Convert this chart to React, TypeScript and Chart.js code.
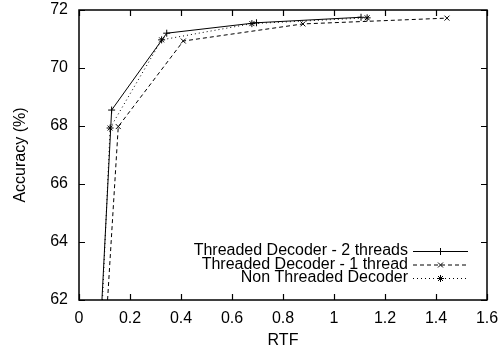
import React, { useEffect, useRef } from "react";
import { Chart, registerables } from "chart.js";
import { drawPoint } from "chart.js/helpers";

Chart.register(...registerables);

const seriesNames = [
  "Threaded Decoder - 2 threads",
  "Threaded Decoder - 1 thread",
  "Non Threaded Decoder",
];
const twoThreadsX = [0.09, 0.128, 0.344, 0.696, 1.106];
const twoThreadsY = [62, 68.55, 71.2, 71.56, 71.75];
const oneThreadX = [0.112, 0.154, 0.409, 0.878, 1.443];
const oneThreadY = [62, 67.98, 70.93, 71.52, 71.72];
const nonThreadedX = [0.092, 0.122, 0.324, 0.678, 1.13];
const nonThreadedY = [62, 67.93, 70.97, 71.53, 71.73];
const xTicks = [0, 0.2, 0.4, 0.6, 0.8, 1, 1.2, 1.4, 1.6];
const yTicks = [62, 64, 66, 68, 70, 72];

const FONT = "Liberation Sans, Arial, Helvetica, sans-serif";

function toPoints(xs: number[], ys: number[]) {
  return xs.map((x, i) => ({ x, y: ys[i] }));
}

const framePlugin = {
  id: "gnuplotFrame",
  afterDraw(chart: any) {
    const { ctx, chartArea } = chart;
    const { left, right, top, bottom } = chartArea;
    const xs = chart.scales.x;
    const ys = chart.scales.y;
    const tl = 6;
    ctx.save();
    ctx.strokeStyle = "#000";
    ctx.lineWidth = 1.5;
    ctx.setLineDash([]);
    ctx.strokeRect(left, top, right - left, bottom - top);
    ctx.lineWidth = 1.2;
    ctx.beginPath();
    xTicks.forEach((v) => {
      const px = Math.round(xs.getPixelForValue(v)) + 0.5;
      ctx.moveTo(px, bottom);
      ctx.lineTo(px, bottom - tl);
      ctx.moveTo(px, top);
      ctx.lineTo(px, top + tl);
    });
    yTicks.forEach((v) => {
      const py = Math.round(ys.getPixelForValue(v)) + 0.5;
      ctx.moveTo(left, py);
      ctx.lineTo(left + tl, py);
      ctx.moveTo(right, py);
      ctx.lineTo(right - tl, py);
    });
    ctx.stroke();

    // legend
    const textRight = right - 79;
    const lineStart = right - 74;
    const lineEnd = right - 19;
    ctx.font = `16px ${FONT}`;
    ctx.textAlign = "right";
    ctx.textBaseline = "middle";
    ctx.fillStyle = "#000";
    chart.data.datasets.forEach((ds: any, i: number) => {
      const y = bottom - 49 + 13.5 * i;
      ctx.fillText(ds.label, textRight, y);
      ctx.save();
      ctx.lineWidth = 1;
      ctx.setLineDash(ds.borderDash || []);
      ctx.beginPath();
      ctx.moveTo(lineStart, y + 0.5);
      ctx.lineTo(lineEnd, y + 0.5);
      ctx.stroke();
      ctx.setLineDash([]);
      drawPoint(
        ctx,
        {
          pointStyle: ds.pointStyle,
          radius: 3.5,
          rotation: 0,
          borderWidth: 1,
        } as any,
        (lineStart + lineEnd) / 2,
        y + 0.5
      );
      ctx.restore();
    });
    ctx.restore();
  },
};

export default function App() {
  const ref = useRef<HTMLCanvasElement | null>(null);

  useEffect(() => {
    if (!ref.current) return;
    const common = {
      borderColor: "#000",
      backgroundColor: "#000",
      pointBorderColor: "#000",
      borderWidth: 1,
      pointBorderWidth: 1,
      pointRadius: [0, 3.5, 3.5, 3.5, 3.5],
      pointHoverRadius: 0,
      fill: false,
      tension: 0,
      clip: 0,
    };
    const chart = new Chart(ref.current, {
      type: "line",
      data: {
        datasets: [
          {
            ...common,
            label: seriesNames[0],
            data: toPoints(twoThreadsX, twoThreadsY),
            pointStyle: "cross",
            borderDash: [],
          },
          {
            ...common,
            label: seriesNames[1],
            data: toPoints(oneThreadX, oneThreadY),
            pointStyle: "crossRot",
            borderDash: [4, 3],
          },
          {
            ...common,
            label: seriesNames[2],
            data: toPoints(nonThreadedX, nonThreadedY),
            pointStyle: "star",
            borderDash: [1, 3],
          },
        ] as any,
      },
      plugins: [framePlugin],
      options: {
        animation: false,
        responsive: true,
        maintainAspectRatio: false,
        layout: { padding: { top: 10, right: 17, left: 0, bottom: 0 } },
        plugins: {
          legend: { display: false },
          tooltip: { enabled: false },
        },
        scales: {
          x: {
            type: "linear",
            min: 0,
            max: 1.6,
            afterBuildTicks: (scale: any) => {
              scale.ticks = xTicks.map((v) => ({ value: v }));
            },
            afterFit: (scale: any) => {
              scale.height = 49;
              scale.paddingLeft = 0;
              scale.paddingRight = 0;
              scale.paddingTop = 0;
              scale.paddingBottom = 0;
            },
            ticks: {
              padding: 9,
              color: "#000",
              font: { family: FONT, size: 16 },
              maxRotation: 0,
              autoSkip: false,
              callback: (v: any) => String(Number(Number(v).toFixed(1))),
            },
            grid: { display: false, drawTicks: false },
            border: { display: false },
            title: {
              display: true,
              text: "RTF",
              color: "#000",
              font: { family: FONT, size: 16, lineHeight: 1.2 },
              padding: { top: 0, bottom: -1 },
            },
          },
          y: {
            type: "linear",
            min: 62,
            max: 72,
            afterBuildTicks: (scale: any) => {
              scale.ticks = yTicks.map((v) => ({ value: v }));
            },
            afterFit: (scale: any) => {
              scale.width = 79;
              scale.paddingLeft = 0;
              scale.paddingRight = 0;
              scale.paddingTop = 0;
              scale.paddingBottom = 0;
            },
            ticks: {
              padding: 11,
              color: "#000",
              font: { family: FONT, size: 16 },
              autoSkip: false,
              callback: (v: any) => String(v),
            },
            grid: { display: false, drawTicks: false },
            border: { display: false },
            title: {
              display: true,
              text: "Accuracy (%)",
              color: "#000",
              font: { family: FONT, size: 16, lineHeight: 1.2 },
              padding: { top: 11, bottom: 0 },
            },
          },
        },
      } as any,
    });
    return () => chart.destroy();
  }, []);

  return (
    <div
      style={{
        position: "absolute",
        left: 0,
        top: 0,
        width: 504,
        height: 349,
        background: "#fff",
      }}
    >
      <canvas ref={ref} />
    </div>
  );
}
